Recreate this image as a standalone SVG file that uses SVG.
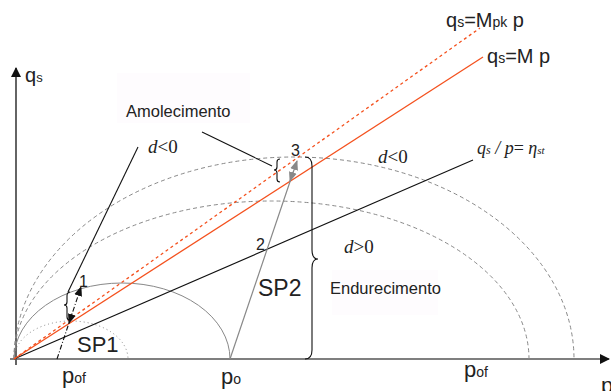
<svg xmlns="http://www.w3.org/2000/svg" width="611" height="391" viewBox="0 0 611 391">
<defs>
<style>
.t{font-family:"Liberation Sans",Arial,sans-serif;fill:#222}
.m{font-family:"Liberation Serif","Times New Roman",serif;fill:#222}
.ax{stroke:#111;stroke-width:1.3;fill:none}
.hax{stroke:#555;stroke-width:1.5;fill:none}
.ell{stroke:#888;stroke-width:1;fill:none}
.dash{stroke-dasharray:4,3}
.red{stroke:#f4511e;stroke-width:1.3;fill:none}
.blk{stroke:#111;stroke-width:1.1;fill:none}
.gry{stroke:#888;stroke-width:1.2;fill:none}
</style>
<marker id="axA" markerWidth="10" markerHeight="10" refX="9" refY="5" orient="auto" markerUnits="userSpaceOnUse">
<path d="M0,0 L10,5 L0,10 Z" fill="#111"/>
</marker>
<marker id="gA" markerWidth="10" markerHeight="10" refX="9" refY="5" orient="auto" markerUnits="userSpaceOnUse">
<path d="M0,1 L10,5 L0,9 Z" fill="#888"/>
</marker>
<marker id="kA" markerWidth="10" markerHeight="10" refX="9" refY="5" orient="auto" markerUnits="userSpaceOnUse">
<path d="M0,1 L10,5 L0,9 Z" fill="#111"/>
</marker>
</defs>
<rect x="117" y="73" width="133" height="50" fill="#fefcfe"/>
<rect x="332" y="270" width="106" height="45" fill="#fefcfe"/>
<g id="axes">
<path class="ax" d="M16,365 L16,68" marker-end="url(#axA)"/>
<path class="hax" d="M10,359 L609,359" marker-end="url(#axA)"/>
</g>
<g id="yield-surfaces">
<path class="ell" stroke-dasharray="1,3" d="M14,359 A57,38 0 0 1 128,359"/>
<path class="ell" d="M14,359 A108,76 0 0 1 230,359"/>
<path class="ell dash" d="M14,359 A257.5,158 0 0 1 529,359"/>
<path class="ell dash" d="M14,359 A280,202 0 0 1 574,359"/>
</g>
<g id="connectors">
<path class="blk" d="M14,359 L473,160"/>
<path class="red" d="M14,359 L483,57"/>
<path class="red" stroke-dasharray="3,3" d="M14,359 L480,28"/>
<path class="gry" d="M230,359 L297,161" marker-end="url(#gA)"/>
<path class="gry" d="M293,172 L290,181" marker-end="url(#gA)"/>
<path class="blk" stroke-dasharray="5,2,1,2" d="M57,359 L81,287" marker-end="url(#kA)"/>
<path class="blk" d="M72,314 L69,323" marker-end="url(#kA)"/>
<path class="blk" d="M202,132 L272,166"/>
<path class="blk" d="M138,147 L68,292"/>
<path class="blk" d="M305,157 Q312,157 312,166 L312,250 Q312,259 318,259 Q312,259 312,268 L312,350 Q312,359 305,359"/>
<path class="blk" d="M280,159 Q277,159 277,162 L277,167 Q277,170 274,170 Q277,170 277,173 L277,179 Q277,182 280,182"/>
<path class="blk" d="M70,292 Q67,292 67,296 L67,302 Q67,305 64,305 Q67,305 67,308 L67,317 Q67,320 70,320"/>
</g>
<g id="labels">
<text class="t" x="25" y="82" font-size="20">q<tspan font-size="13">s</tspan></text>
<text class="t" x="446" y="27" font-size="20">q<tspan font-size="14">s</tspan>=M<tspan font-size="14">pk</tspan> p</text>
<text class="t" x="487" y="63" font-size="20">q<tspan font-size="14">s</tspan>=M p</text>
<text class="m" x="477" y="154" font-size="18" font-style="italic">q<tspan font-size="12">s</tspan> / p<tspan font-style="normal">= </tspan>η<tspan font-size="11">st</tspan></text>
<text class="t" x="126" y="117" font-size="16.5">Amolecimento</text>
<text class="t" x="330" y="294" font-size="16.5">Endurecimento</text>
<text class="m" x="148" y="153" font-size="19"><tspan font-style="italic">d</tspan>&lt;0</text>
<text class="m" x="378" y="163" font-size="19"><tspan font-style="italic">d</tspan>&lt;0</text>
<text class="m" x="344" y="253" font-size="19"><tspan font-style="italic">d</tspan>&gt;0</text>
<text class="t" x="291" y="156" font-size="16">3</text>
<text class="t" x="256" y="250" font-size="16">2</text>
<text class="t" x="79" y="287" font-size="16">1</text>
<text class="t" x="258" y="296" font-size="23">SP2</text>
<text class="t" x="77" y="352" font-size="22">SP1</text>
<text class="t" x="62" y="383" font-size="22">p<tspan font-size="14">of</tspan></text>
<text class="t" x="221" y="384" font-size="22">p<tspan font-size="14">o</tspan></text>
<text class="t" x="464" y="377" font-size="22">p<tspan font-size="14">of</tspan></text>
<text class="t" x="601" y="393" font-size="22">p</text>
</g>
</svg>
